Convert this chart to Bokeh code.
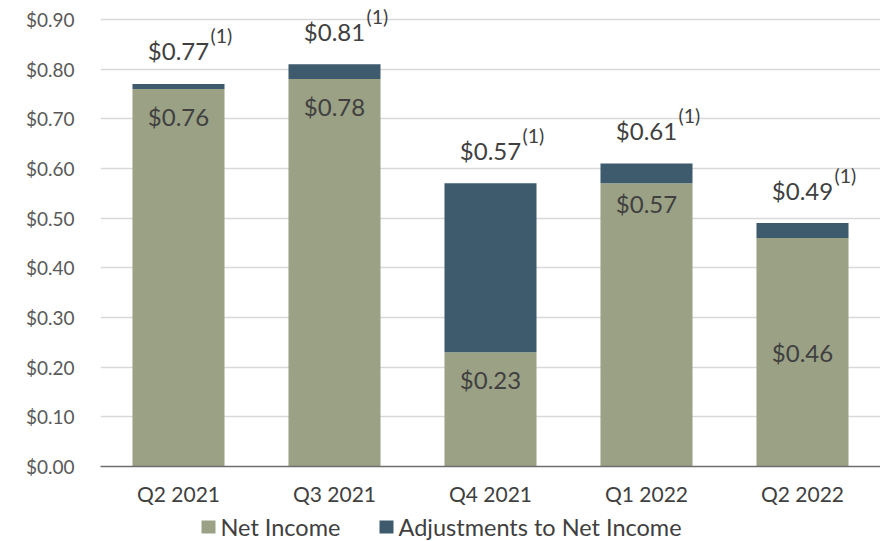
from bokeh.plotting import figure
from bokeh.layouts import column
from bokeh.models import (ColumnDataSource, FactorRange, Range1d, NumeralTickFormatter,
                          FixedTicker)
from bokeh.core.properties import value
from bokeh.embed import file_html
from bokeh.resources import INLINE

quarters = ["Q2 2021", "Q3 2021", "Q4 2021", "Q1 2022", "Q2 2022"]
net_income = [0.76, 0.78, 0.23, 0.57, 0.46]
adjustments = [0.01, 0.03, 0.34, 0.04, 0.03]
totals = [0.77, 0.81, 0.57, 0.61, 0.49]
net_labels = ["$0.76", "$0.78", "$0.23", "$0.57", "$0.46"]
total_labels = ["$0.77", "$0.81", "$0.57", "$0.61", "$0.49"]
y_ticks = [0.0, 0.1, 0.2, 0.3, 0.4, 0.5, 0.6, 0.7, 0.8, 0.9]
series_names = ["Net Income", "Adjustments to Net Income"]

NET_COLOR = "#9BA185"
ADJ_COLOR = "#3E5B6E"
FONT = "Lato"
TEXT_COLOR = "#404040"

# inner label placement: "end" = near top of net income segment, "center" = middle
inner_mode = ["end", "end", "end", "end", "center"]
inner_off = [28, 27, 27, 20, 0]
inner_y = [n / 2 if m == "center" else n for n, m in zip(net_income, inner_mode)]

source = ColumnDataSource(dict(
    q=quarters, net=net_income, adj=adjustments, total=totals,
    net_lab=net_labels, tot_lab=total_labels, inner_y=inner_y, inner_off=inner_off,
    sup=["(1)"] * len(quarters),
))

# frame: 468 px tall, $0.90 gridline 19 px below the top
Y_TOP = 0.9 * 468 / 449

p = figure(x_range=FactorRange(*quarters), y_range=Range1d(0, Y_TOP),
           width=880, height=508, output_backend="svg", toolbar_location=None,
           min_border_left=100, min_border_right=0, min_border_top=0, min_border_bottom=40)
p.outline_line_color = None
p.background_fill_color = "white"
p.border_fill_color = "white"

rs = p.vbar_stack(["net", "adj"], x="q", width=0.59, color=[NET_COLOR, ADJ_COLOR],
                  line_color=None, source=source)

# labels
p.text(x="q", y="inner_y", text="net_lab", source=source, y_offset="inner_off",
       text_align="center", text_baseline="middle", text_font=value(FONT),
       text_font_size="24px", text_color=TEXT_COLOR)
p.text(x="q", y="total", text="tot_lab", source=source, y_offset=-33,
       text_align="center", text_baseline="middle", text_font=value(FONT),
       text_font_size="24px", text_color=TEXT_COLOR)
p.text(x="q", y="total", text="sup", source=source, y_offset=-48, x_offset=32,
       text_align="left", text_baseline="middle", text_font=value(FONT),
       text_font_size="19.5px", text_color=TEXT_COLOR)

# axes
p.yaxis.ticker = FixedTicker(ticks=y_ticks)
p.yaxis.formatter = NumeralTickFormatter(format="$0.00")
p.yaxis.axis_line_color = None
p.yaxis.major_tick_line_color = None
p.yaxis.minor_tick_line_color = None
p.yaxis.major_tick_out = 0
p.yaxis.major_tick_in = 0
p.yaxis.major_label_standoff = 26
p.yaxis.major_label_text_font = FONT
p.yaxis.major_label_text_font_size = "19px"
p.yaxis.major_label_text_color = "#595959"

p.xaxis.axis_line_color = "#6F6F6F"
p.xaxis.axis_line_width = 1.5
p.xaxis.major_tick_line_color = None
p.xaxis.minor_tick_line_color = None
p.xaxis.major_tick_out = 0
p.xaxis.major_tick_in = 0
p.xaxis.major_label_standoff = 14
p.xaxis.major_label_text_font = FONT
p.xaxis.major_label_text_font_size = "21px"
p.xaxis.major_label_text_color = TEXT_COLOR

p.xgrid.grid_line_color = None
p.ygrid.grid_line_color = "#D9D9D9"
p.ygrid.grid_line_width = 1.5

# legend strip below the chart (page pixel coordinates; frame aligned with main plot)
p2 = figure(width=880, height=33, output_backend="svg", toolbar_location=None,
            x_range=Range1d(100, 880), y_range=Range1d(33, 0),
            x_axis_type=None, y_axis_type=None,
            min_border_left=100, min_border_right=0, min_border_top=0, min_border_bottom=0)
p2.outline_line_color = None
p2.background_fill_color = "white"
p2.border_fill_color = "white"
p2.xgrid.grid_line_color = None
p2.ygrid.grid_line_color = None

leg = ColumnDataSource(dict(
    sx=[208, 386], tx=[220, 398], y=[18.5, 18.5],
    color=[NET_COLOR, ADJ_COLOR], label=series_names,
))
p2.rect(x="sx", y="y", width=14, height=13, fill_color="color", line_color=None, source=leg)
p2.text(x="tx", y="y", text="label", source=leg, text_align="left",
        text_baseline="middle", text_font=value(FONT), text_font_size="23.5px",
        text_color=TEXT_COLOR)

open("out.html", "w").write(file_html(column(p, p2, spacing=0), INLINE))
